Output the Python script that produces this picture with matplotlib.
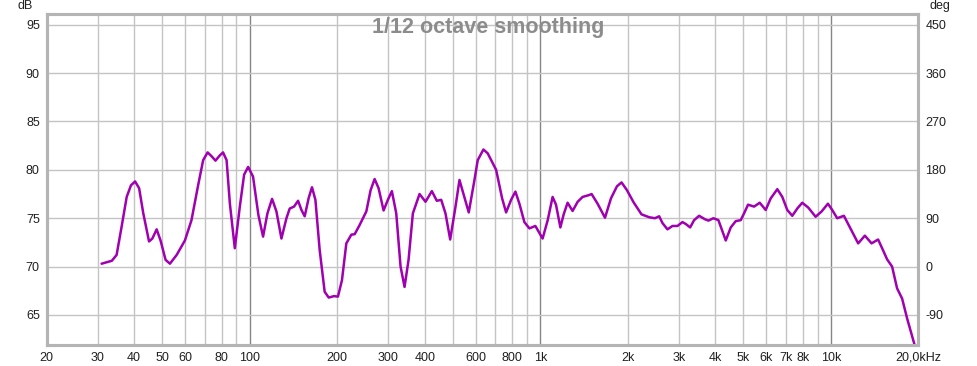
import numpy as np
import matplotlib.pyplot as plt
from matplotlib.ticker import FixedLocator, NullFormatter, NullLocator

plt.rcParams['font.family'] = ['Liberation Sans', 'DejaVu Sans']
plt.rcParams['axes.unicode_minus'] = False

# Frequency response (Hz, dB)
freq_hz = [30.9, 33.5, 34.8, 36.2, 37.7, 39.0, 40.3, 41.6, 43.0, 45.0,
           46.2, 47.8, 49.3, 51.3, 53.1, 56.0, 59.8, 63.0, 66.4, 69.1,
           71.6, 73.9, 76.2, 78.9, 80.9, 83.2, 85.4, 88.8, 92.4, 95.6,
           98.7, 102.6, 107.1, 111.1, 115.0, 119.3, 123.5, 128.5, 133.7, 137.2,
           142.0, 146.6, 150.6, 154.5, 159.5, 163.7, 168.2, 174.0, 181.0, 186.9,
           194.9, 201.1, 207.6, 214.9, 223.6, 229.6, 238.8, 251.8, 260.5, 268.9,
           277.5, 288.7, 298.7, 308.3, 319.2, 330.3, 340.9, 351.9, 364.1, 383.9,
           402.5, 423.2, 440.2, 455.8, 471.5, 489.4, 510.5, 526.8, 545.0, 567.0,
           593.2, 608.8, 636.9, 659.0, 704.3, 738.6, 762.3, 793.1, 820.6, 847.0,
           881.0, 916.8, 961.2, 986.7, 1018, 1060, 1102, 1132, 1172, 1203,
           1241, 1291, 1344, 1398, 1474, 1501, 1574, 1669, 1750, 1835,
           1903, 1986, 2093, 2229, 2369, 2479, 2564, 2632, 2738, 2849,
           2964, 3083, 3167, 3277, 3382, 3519, 3681, 3788, 3940, 4100,
           4198, 4346, 4522, 4704, 4894, 5024, 5186, 5438, 5689, 5964,
           6206, 6539, 6803, 7077, 7362, 7660, 7968, 8356, 8859, 9290,
           9766, 10104, 10510, 11084, 11376, 11834, 12411, 13089, 13800, 14536,
           15005, 15610, 16240, 16895, 17580, 18290, 19390]
spl_db = [70.3, 70.6, 71.2, 74.1, 77.2, 78.4, 78.8, 78.1, 75.5, 72.6,
          72.9, 73.85, 72.7, 70.7, 70.3, 71.2, 72.7, 74.8, 78.4, 81.0,
          81.8, 81.4, 80.95, 81.5, 81.8, 81.0, 76.5, 71.9, 76.2, 79.5,
          80.3, 79.3, 75.3, 73.1, 75.5, 77.0, 75.7, 72.9, 75.0, 76.0,
          76.2, 76.8, 75.85, 75.2, 77.1, 78.2, 76.9, 71.7, 67.4, 66.8,
          66.95, 66.9, 68.6, 72.4, 73.3, 73.35, 74.3, 75.7, 77.9, 79.05,
          78.1, 75.8, 76.9, 77.8, 75.5, 70.0, 67.9, 70.7, 75.5, 77.5,
          76.7, 77.8, 76.8, 76.9, 75.5, 72.8, 76.2, 78.95, 77.4, 75.6,
          78.95, 81.0, 82.1, 81.7, 80.0, 77.05, 75.6, 76.9, 77.75, 76.5,
          74.6, 73.95, 74.2, 73.6, 72.9, 74.8, 77.2, 76.4, 74.05, 75.4,
          76.6, 75.75, 76.7, 77.2, 77.4, 77.5, 76.5, 75.05, 77.05, 78.3,
          78.7, 77.9, 76.65, 75.4, 75.1, 75.0, 75.2, 74.5, 73.85, 74.2,
          74.2, 74.6, 74.4, 74.05, 74.8, 75.25, 74.9, 74.75, 75.0, 74.8,
          73.95, 72.7, 74.05, 74.7, 74.8, 75.5, 76.4, 76.2, 76.6, 75.85,
          77.05, 78.0, 77.2, 75.85, 75.25, 76.0, 76.6, 76.1, 75.15, 75.7,
          76.5, 75.85, 75.0, 75.25, 74.6, 73.6, 72.4, 73.2, 72.4, 72.8,
          71.9, 70.75, 70.0, 67.75, 66.7, 64.65, 61.95]

x_ticks = [20, 30, 40, 50, 60, 80, 100, 200, 300, 400, 600, 800,
           1000, 2000, 3000, 4000, 5000, 6000, 7000, 8000, 10000, 20000]
x_labels = ['20', '30', '40', '50', '60', '80', '100', '200', '300', '400',
            '600', '800', '1k', '2k', '3k', '4k', '5k', '6k', '7k', '8k',
            '10k', '20,0kHz']
db_ticks = [65, 70, 75, 80, 85, 90, 95]
deg_ticks = [-90, 0, 90, 180, 270, 360, 450]

fig = plt.figure(figsize=(9.77, 3.66), dpi=100)
ax = fig.add_axes([0.0478, 0.0574, 0.8922, 0.9043])

# grid: every integer multiple, decades darker
for d in [10, 100, 1000, 10000]:
    for m in range(1, 10):
        f = d * m
        if 20 <= f <= 20000:
            dec = m == 1
            ax.axvline(f, color='#858585' if dec else '#c4c4c4',
                       lw=1.0, zorder=1)
for v in db_ticks:
    ax.axhline(v, color='#c4c4c4', lw=1.0, zorder=1)

ax.plot(freq_hz, spl_db, color='#a000b0', lw=1.8, zorder=3,
        solid_joinstyle='round', solid_capstyle='round')

ax.set_xscale('log')
ax.set_xlim(20, 20000)
ax.set_ylim(61.9, 96.1)
ax.xaxis.set_major_locator(FixedLocator(x_ticks))
ax.set_xticklabels(x_labels)
ax.xaxis.set_minor_locator(NullLocator())
ax.xaxis.set_minor_formatter(NullFormatter())
ax.set_yticks(db_ticks)
ax.tick_params(length=0, labelsize=9, colors='#202020', pad=5)

ax2 = ax.twinx()
lo, hi = ax.get_ylim()
ax2.set_ylim((lo - 70) * 18, (hi - 70) * 18)
ax2.set_yticks(deg_ticks)
ax2.tick_params(length=0, labelsize=9, colors='#202020', pad=5)

for a in (ax, ax2):
    for s in a.spines.values():
        s.set_color('#b4b4b4')
        s.set_linewidth(2.2)

ax.text(0.507, 0.99, '1/12 octave smoothing', transform=ax.transAxes,
        ha='center', va='top', fontsize=15.5, fontweight='bold',
        color='#8c8c8c', zorder=4)
fig.text(18 / 977, 1 - 6 / 366, 'dB', ha='left', va='center',
         fontsize=9, color='#202020')
fig.text(929 / 977, 1 - 6 / 366, 'deg', ha='left', va='center',
         fontsize=9, color='#202020')

fig.savefig('out.png', dpi=100, facecolor='white')
